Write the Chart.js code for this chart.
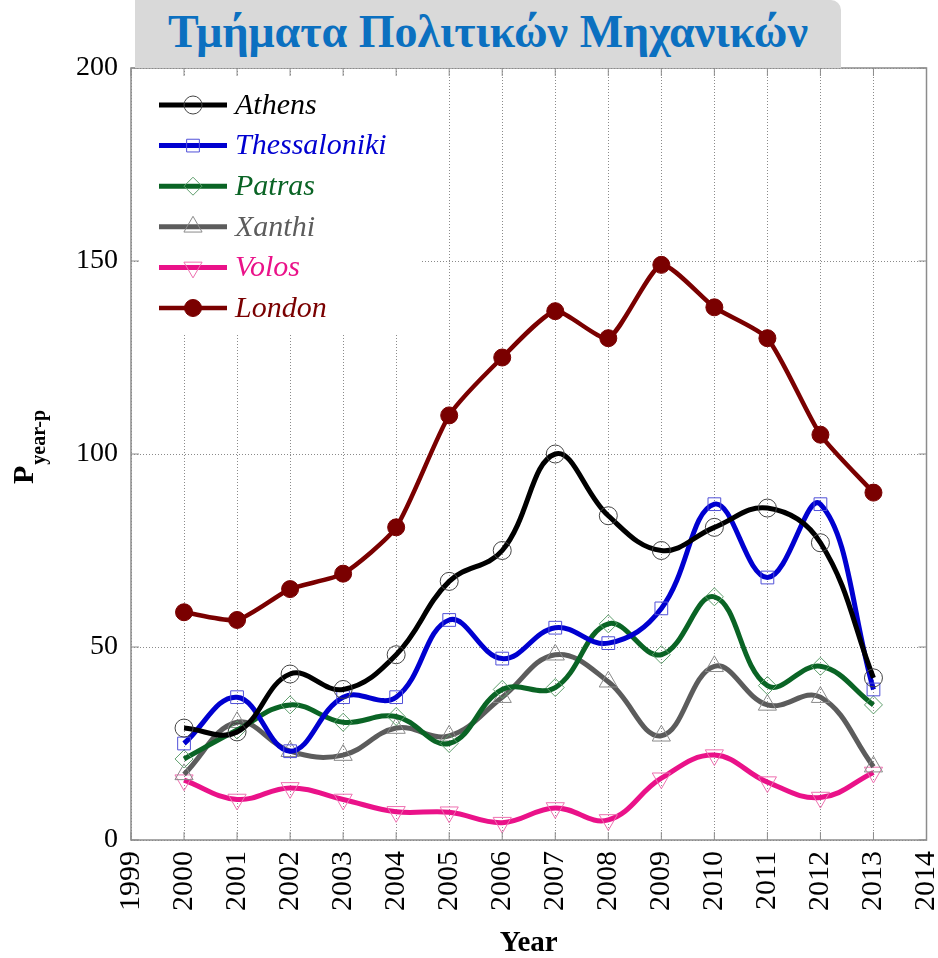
<!DOCTYPE html>
<html>
<head>
<meta charset="utf-8">
<script src="https://cdn.jsdelivr.net/npm/chart.js@4.4.1/dist/chart.umd.min.js"></script>
<style>
  html, body { margin: 0; padding: 0; background: #fff; }
  #wrap { position: relative; width: 938px; height: 958px; }
  #titleBox {
    position: absolute; left: 135px; top: 0; width: 706px; height: 68px;
    background: #d9d9d9; border-top-right-radius: 10px; z-index: 2;
    font-family: 'Liberation Serif', serif; font-weight: bold; font-size: 46px;
    color: #0b70c0; text-align: center; line-height: 64px; white-space: nowrap;
  }
  canvas { position: absolute; left: 0; top: 0; }
</style>
</head>
<body>
<div id="wrap">
  <div id="titleBox">Τμήματα Πολιτικών Μηχανικών</div>
  <canvas id="chart" width="938" height="958"></canvas>
</div>
<script>
const years = [2000, 2001, 2002, 2003, 2004, 2005, 2006, 2007, 2008, 2009, 2010, 2011, 2012, 2013];
const xTicks = [1999, 2000, 2001, 2002, 2003, 2004, 2005, 2006, 2007, 2008, 2009, 2010, 2011, 2012, 2013, 2014];
const yTicks = [0, 50, 100, 150, 200];

const athens = [29, 28, 43, 39, 48, 67, 75, 100, 84, 75, 81, 86, 77, 42];
const thessaloniki = [25, 37, 23, 37, 37, 57, 47, 55, 51, 60, 87, 68, 87, 39];
const patras = [21, 28.5, 35, 30.5, 32, 25, 39, 39.5, 56, 48, 63, 40, 45, 35];
const xanthi = [17, 30.5, 23, 22, 29, 27, 37, 48, 41, 27, 45, 35, 37, 19];
const volos = [15.5, 10.5, 13.5, 10.5, 7.3, 7.2, 4.5, 8.3, 5.2, 16, 22, 15, 11, 17.5];
const london = [59, 57, 65, 69, 81, 110, 125, 137, 130, 149, 138, 130, 105, 90];

const serif = "'Liberation Serif', 'Times New Roman', serif";

function pts(values) {
    return values.map((v, i) => ({ x: years[i], y: v }));
}

function series(label, values, color, markColor, style, opts) {
    return Object.assign({
        label: label,
        data: pts(values),
        borderColor: color,
        borderWidth: 5,
        tension: 0.4,
        pointStyle: style,
        pointRadius: 9,
        pointBorderWidth: 1,
        pointBorderColor: markColor,
        pointBackgroundColor: 'rgba(255,255,255,0)'
    }, opts || {});
}

const datasets = [
    series('Athens', athens, '#000000', '#444444', 'circle'),
    series('Thessaloniki', thessaloniki, '#0000d0', '#5050d8', 'rect'),
    series('Patras', patras, '#0a6425', '#5e9e6c', 'rectRot'),
    series('Xanthi', xanthi, '#5c5c5c', '#8a8a8a', 'triangle', { pointRadius: 10.5 }),
    series('Volos', volos, '#ea1289', '#ee70b0', 'triangle', { pointRadius: 10.5, pointRotation: 180 }),
    series('London', london, '#7a0000', '#7a0000', 'circle', {
        borderWidth: 4.5, tension: 0.2, pointRadius: 8.5, pointBackgroundColor: '#7a0000'
    })
];

// legend box, frame, inner ticks, y label
const decor = {
    id: 'decor',
    beforeDatasetsDraw(chart) {
        const ctx = chart.ctx;
        ctx.save();
        ctx.fillStyle = '#ffffff';
        ctx.fillRect(140, 76, 280, 258);
        ctx.restore();
    },
    afterDatasetsDraw(chart) {
        const ctx = chart.ctx;
        const a = chart.chartArea;
        const xs = chart.scales.x, ys = chart.scales.y;
        ctx.save();
        // frame
        ctx.strokeStyle = '#8c8c8c';
        ctx.lineWidth = 1.5;
        ctx.strokeRect(a.left, a.top, a.right - a.left, a.bottom - a.top);
        // inner ticks
        ctx.lineWidth = 1;
        xTicks.forEach(t => {
            const x = xs.getPixelForValue(t);
            ctx.beginPath();
            ctx.moveTo(x, a.bottom); ctx.lineTo(x, a.bottom - 8);
            ctx.moveTo(x, a.top); ctx.lineTo(x, a.top + 8);
            ctx.stroke();
        });
        yTicks.forEach(t => {
            const y = ys.getPixelForValue(t);
            ctx.beginPath();
            ctx.moveTo(a.left, y); ctx.lineTo(a.left + 8, y);
            ctx.moveTo(a.right, y); ctx.lineTo(a.right - 8, y);
            ctx.stroke();
        });
        // legend
        chart.data.datasets.forEach((ds, i) => {
            const y = 105 + i * 40.6;
            ctx.strokeStyle = ds.borderColor;
            ctx.lineWidth = ds.borderWidth;
            ctx.beginPath();
            ctx.moveTo(159, y); ctx.lineTo(227, y);
            ctx.stroke();
            ctx.fillStyle = ds.pointBackgroundColor;
            ctx.strokeStyle = ds.pointBorderColor;
            ctx.lineWidth = 1;
            Chart.helpers.drawPoint(ctx, {
                pointStyle: ds.pointStyle,
                rotation: ds.pointRotation || 0,
                radius: ds.pointRadius,
                borderWidth: 1
            }, 193, y);
            ctx.fillStyle = ds.borderColor;
            ctx.font = 'italic 30px ' + serif;
            ctx.textAlign = 'left';
            ctx.textBaseline = 'middle';
            ctx.fillText(ds.label, 235, y + 1);
        });
        // y axis label
        ctx.translate(33, 484);
        ctx.rotate(-Math.PI / 2);
        ctx.fillStyle = '#000';
        ctx.textBaseline = 'alphabetic';
        ctx.textAlign = 'left';
        ctx.font = 'bold 30px ' + serif;
        ctx.fillText('P', 0, 0);
        const w = ctx.measureText('P').width;
        ctx.font = 'bold 20px ' + serif;
        ctx.fillText('year-p', w + 1, 12);
        ctx.restore();
    }
};

const ctx = document.getElementById('chart').getContext('2d');
new Chart(ctx, {
    type: 'line',
    data: { datasets: datasets },
    options: {
        responsive: false,
        animation: false,
        layout: { padding: { top: 68, right: 11, bottom: 0, left: 0 } },
        plugins: {
            legend: { display: false },
            tooltip: { enabled: false }
        },
        scales: {
            x: {
                type: 'linear',
                min: 1999,
                max: 2014,
                afterBuildTicks: s => { s.ticks = xTicks.map(v => ({ value: v })); },
                afterFit: s => { s.height = 118; s.paddingLeft = 0; s.paddingRight = 0; },
                ticks: {
                    minRotation: 90, maxRotation: 90, padding: 11,
                    color: '#000', font: { family: serif, size: 30 },
                    callback: v => String(v)
                },
                grid: { color: '#8a8a8a', lineWidth: 1, drawTicks: false },
                border: { display: false, dash: [1, 2] },
                title: {
                    display: true, text: 'Year', color: '#000',
                    font: { family: serif, size: 29, weight: 'bold', lineHeight: 1 },
                    padding: { top: 0, bottom: 0 }
                }
            },
            y: {
                min: 0,
                max: 200,
                afterBuildTicks: s => { s.ticks = yTicks.map(v => ({ value: v })); },
                afterFit: s => { s.width = 131; },
                ticks: {
                    padding: 13, color: '#000',
                    font: { family: serif, size: 28 }
                },
                grid: { color: '#8a8a8a', lineWidth: 1, drawTicks: false },
                border: { display: false, dash: [1, 2] }
            }
        }
    },
    plugins: [decor]
});
</script>
</body>
</html>
